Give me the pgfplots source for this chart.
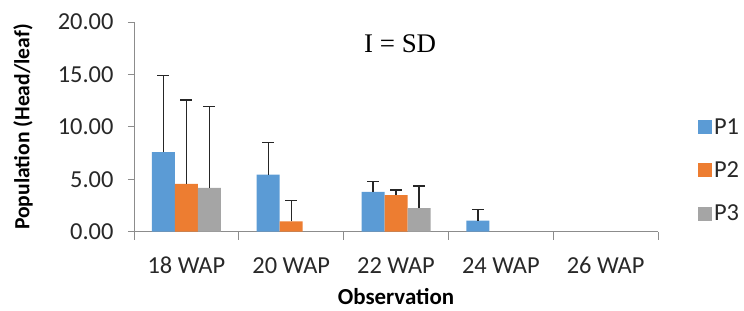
\documentclass[border=0pt]{standalone}
\usepackage{pgfplots}
\pgfplotsset{compat=1.18}
\usepackage{fontspec}
\setmainfont{Carlito}
\newfontfamily\timesfont{Liberation Serif}
\definecolor{cP1}{HTML}{5B9BD5}
\definecolor{cP2}{HTML}{ED7D31}
\definecolor{cP3}{HTML}{A5A5A5}
\definecolor{axgray}{RGB}{140,140,140}
\definecolor{txt}{RGB}{40,40,40}
\begin{document}
\begin{tikzpicture}
\begin{axis}[
  at={(134bp,79.3bp)}, anchor=south west,
  scale only axis, width=524bp, height=209.7bp,
  xmin=-0.5, xmax=4.5, ymin=0, ymax=20,
  axis lines*=left,
  axis line style={draw=axgray, line width=0.8bp, -},
  ybar=0pt, bar width=23bp,
  xtick={0,1,2,3,4},
  xticklabels={18 WAP,20 WAP,22 WAP,24 WAP,26 WAP},
  minor xtick={-0.5,0.5,1.5,2.5,3.5,4.5},
  major x tick style={draw=none},
  minor x tick style={draw=axgray, line width=0.8bp},
  minor tick length=8bp,
  ytick={0,5,10,15,20},
  y tick style={draw=axgray, line width=0.8bp},
  major tick length=6bp,
  tick align=outside,
  yticklabel={\pgfmathprintnumber[fixed,fixed zerofill,precision=2]{\tick}},
  /pgf/number format/assume math mode=true,
  tick label style={font=\fontsize{24.5}{28}\selectfont, text=txt},
  xticklabel style={yshift=-16bp},
  yticklabel style={xshift=-11bp},
  ylabel={\bfseries Population (Head/leaf)},
  ylabel style={font=\fontsize{21.7}{25}\selectfont, text=black, at={(rel axis cs:0,0.5)}, anchor=center, rotate=0, yshift=111bp},
  xlabel={\bfseries Observation},
  xlabel style={font=\fontsize{23}{27}\selectfont, text=black, at={(rel axis cs:0.5,0)}, anchor=base, inner sep=0pt, yshift=-73bp},
  error bars/y dir=plus, error bars/y explicit,
  error bars/error bar style={line width=1.4bp, color=black!85},
  error bars/error mark options={rotate=90, mark size=6bp, line width=1.4bp, color=black!85},
  legend style={at={(rel axis cs:1.076,0.292)}, anchor=west, draw=none, fill=none,
     font=\fontsize{24.5}{28}\selectfont, text=txt, row sep=22bp, inner sep=0pt,
     cells={anchor=west}},
  legend image code/.code={\fill[#1,draw=none] (0bp,-7bp) rectangle (14bp,7bp);},
  legend cell align=left,
]
\addplot[fill=cP1, draw=none] coordinates {
  (0,7.60) +- (0,7.30)
  (1,5.45) +- (0,3.05)
  (2,3.80) +- (0,0.98)
  (3,1.05) +- (0,1.09)
};
\addplot[fill=cP2, draw=none] coordinates {
  (0,4.55) +- (0,8.01)
  (1,0.99) +- (0,2.01)
  (2,3.48) +- (0,0.51)
};
\addplot[fill=cP3, draw=none] coordinates {
  (0,4.18) +- (0,7.78)
  (2,2.24) +- (0,2.13)
};
\legend{P1,P2,P3}
\node[font=\timesfont\fontsize{27}{30}\selectfont, text=black] at (rel axis cs:0.508,0.898) {I = SD};
\end{axis}
\pgfresetboundingbox
\path (0,0) rectangle (744bp,311bp);
\end{tikzpicture}
\end{document}
